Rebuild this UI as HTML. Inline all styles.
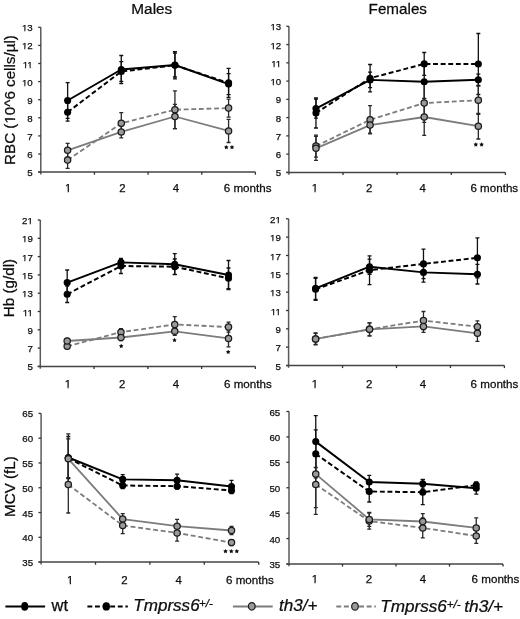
<!DOCTYPE html>
<html><head><meta charset="utf-8"><title>Figure</title>
<style>html,body{margin:0;padding:0;background:#fff;}svg{display:block;filter:grayscale(1);}text{font-family:"Liberation Sans", sans-serif;fill:#0d0d0d;stroke:#0d0d0d;stroke-width:0.25px;}.tk{font-size:9.7px;}.xl{font-size:11.4px;}.ti{font-size:15px;}.yt{font-size:15.2px;}.lg{font-size:16.5px;}.it{font-style:italic;}.sup{font-size:11.5px;font-style:italic;}</style></head><body>
<svg width="520" height="619" viewBox="0 0 520 619">
<rect width="520" height="619" fill="#fff"/>
<text transform="translate(131.32,13.5) scale(1.025,1)" class="ti">Males</text>
<text transform="translate(368.58,13.6) scale(1.016,1)" class="ti">Females</text>
<text transform="translate(15,164.95) rotate(-90)" class="yt">RBC (10^6 cells/µl)</text>
<text transform="translate(14.2,317.15) rotate(-90)" class="yt">Hb (g/dl)</text>
<text transform="translate(14.9,516.95) rotate(-90)" class="yt">MCV (fL)</text>
<line x1="40.8" y1="27.3" x2="40.8" y2="174.4" stroke="#5a5a5a" stroke-width="1.5"/>
<line x1="38.2" y1="172.1" x2="40.8" y2="172.1" stroke="#333" stroke-width="1.3"/>
<text x="32.7" y="176.15" text-anchor="end" class="tk">5</text>
<line x1="38.2" y1="154" x2="40.8" y2="154" stroke="#333" stroke-width="1.3"/>
<text x="32.7" y="158.05" text-anchor="end" class="tk">6</text>
<line x1="38.2" y1="135.9" x2="40.8" y2="135.9" stroke="#333" stroke-width="1.3"/>
<text x="32.7" y="139.95" text-anchor="end" class="tk">7</text>
<line x1="38.2" y1="117.8" x2="40.8" y2="117.8" stroke="#333" stroke-width="1.3"/>
<text x="32.7" y="121.85" text-anchor="end" class="tk">8</text>
<line x1="38.2" y1="99.7" x2="40.8" y2="99.7" stroke="#333" stroke-width="1.3"/>
<text x="32.7" y="103.75" text-anchor="end" class="tk">9</text>
<line x1="38.2" y1="81.6" x2="40.8" y2="81.6" stroke="#333" stroke-width="1.3"/>
<text x="32.7" y="85.65" text-anchor="end" class="tk">10</text>
<line x1="38.2" y1="63.5" x2="40.8" y2="63.5" stroke="#333" stroke-width="1.3"/>
<text x="32.7" y="67.55" text-anchor="end" class="tk">11</text>
<line x1="38.2" y1="45.4" x2="40.8" y2="45.4" stroke="#333" stroke-width="1.3"/>
<text x="32.7" y="49.45" text-anchor="end" class="tk">12</text>
<line x1="38.2" y1="27.3" x2="40.8" y2="27.3" stroke="#333" stroke-width="1.3"/>
<text x="32.7" y="31.35" text-anchor="end" class="tk">13</text>
<line x1="38.2" y1="172.1" x2="255.4" y2="172.1" stroke="#444" stroke-width="1.5"/>
<line x1="94.45" y1="172.1" x2="94.45" y2="174.7" stroke="#333" stroke-width="1.3"/>
<line x1="148.1" y1="172.1" x2="148.1" y2="174.7" stroke="#333" stroke-width="1.3"/>
<line x1="201.75" y1="172.1" x2="201.75" y2="174.7" stroke="#333" stroke-width="1.3"/>
<line x1="255.4" y1="172.1" x2="255.4" y2="174.7" stroke="#333" stroke-width="1.3"/>
<text x="68.1" y="192.1" text-anchor="middle" class="xl">1</text>
<text x="122.3" y="192.1" text-anchor="middle" class="xl">2</text>
<text x="176" y="192.1" text-anchor="middle" class="xl">4</text>
<text transform="translate(223.69,192.1) scale(1.02,1)" class="xl">6 months</text>
<path d="M67.62 103.3V121.1M65.62 103.3H69.62M65.62 121.1H69.62" stroke="#111" stroke-width="1.3" fill="none"/>
<path d="M121.28 61.6V81.4M119.28 61.6H123.28M119.28 81.4H123.28" stroke="#111" stroke-width="1.3" fill="none"/>
<path d="M174.93 51.7V78.9M172.93 51.7H176.93M172.93 78.9H176.93" stroke="#111" stroke-width="1.3" fill="none"/>
<path d="M228.58 68.4V97.4M226.58 68.4H230.58M226.58 97.4H230.58" stroke="#111" stroke-width="1.3" fill="none"/>
<path d="M67.62 82.7V118.3M65.62 82.7H69.62M65.62 118.3H69.62" stroke="#111" stroke-width="1.3" fill="none"/>
<path d="M121.28 55.5V83.5M119.28 55.5H123.28M119.28 83.5H123.28" stroke="#111" stroke-width="1.3" fill="none"/>
<path d="M174.93 53V77M172.93 53H176.93M172.93 77H176.93" stroke="#111" stroke-width="1.3" fill="none"/>
<path d="M228.58 73.6V94.6M226.58 73.6H230.58M226.58 94.6H230.58" stroke="#111" stroke-width="1.3" fill="none"/>
<path d="M67.62 151.9V168.3M65.62 151.9H69.62M65.62 168.3H69.62" stroke="#282828" stroke-width="1.3" fill="none"/>
<path d="M121.28 112.7V133.9M119.28 112.7H123.28M119.28 133.9H123.28" stroke="#282828" stroke-width="1.3" fill="none"/>
<path d="M174.93 90.8V128.6M172.93 90.8H176.93M172.93 128.6H176.93" stroke="#282828" stroke-width="1.3" fill="none"/>
<path d="M228.58 99.1V117.1M226.58 99.1H230.58M226.58 117.1H230.58" stroke="#282828" stroke-width="1.3" fill="none"/>
<path d="M67.62 143.4V157.2M65.62 143.4H69.62M65.62 157.2H69.62" stroke="#282828" stroke-width="1.3" fill="none"/>
<path d="M121.28 126V137.8M119.28 126H123.28M119.28 137.8H123.28" stroke="#282828" stroke-width="1.3" fill="none"/>
<path d="M174.93 104.4V128.6M172.93 104.4H176.93M172.93 128.6H176.93" stroke="#282828" stroke-width="1.3" fill="none"/>
<path d="M228.58 119.3V142.5M226.58 119.3H230.58M226.58 142.5H230.58" stroke="#282828" stroke-width="1.3" fill="none"/>
<polyline points="67.62,112.2 121.28,71.5 174.93,65.3 228.58,82.9" fill="none" stroke="#000" stroke-width="1.95" stroke-dasharray="4.9 2.7" stroke-linejoin="round"/>
<polyline points="67.62,100.5 121.28,69.5 174.93,65 228.58,84.1" fill="none" stroke="#000" stroke-width="1.95" stroke-linejoin="round"/>
<polyline points="67.62,160.1 121.28,123.3 174.93,109.7 228.58,108.1" fill="none" stroke="#7c7c7c" stroke-width="1.8" stroke-dasharray="4.9 2.7" stroke-linejoin="round"/>
<polyline points="67.62,150.3 121.28,131.9 174.93,116.5 228.58,130.9" fill="none" stroke="#7c7c7c" stroke-width="1.8" stroke-linejoin="round"/>
<circle cx="67.62" cy="112.2" r="3.55" fill="#000"/>
<circle cx="121.28" cy="71.5" r="3.55" fill="#000"/>
<circle cx="174.93" cy="65.3" r="3.55" fill="#000"/>
<circle cx="228.58" cy="82.9" r="3.55" fill="#000"/>
<circle cx="67.62" cy="100.5" r="3.55" fill="#000"/>
<circle cx="121.28" cy="69.5" r="3.55" fill="#000"/>
<circle cx="174.93" cy="65" r="3.55" fill="#000"/>
<circle cx="228.58" cy="84.1" r="3.55" fill="#000"/>
<circle cx="67.62" cy="160.1" r="3.15" fill="#9a9a9a" stroke="#1c1c1c" stroke-width="1.25"/>
<circle cx="121.28" cy="123.3" r="3.15" fill="#9a9a9a" stroke="#1c1c1c" stroke-width="1.25"/>
<circle cx="174.93" cy="109.7" r="3.15" fill="#9a9a9a" stroke="#1c1c1c" stroke-width="1.25"/>
<circle cx="228.58" cy="108.1" r="3.15" fill="#9a9a9a" stroke="#1c1c1c" stroke-width="1.25"/>
<circle cx="67.62" cy="150.3" r="3.15" fill="#9a9a9a" stroke="#1c1c1c" stroke-width="1.25"/>
<circle cx="121.28" cy="131.9" r="3.15" fill="#9a9a9a" stroke="#1c1c1c" stroke-width="1.25"/>
<circle cx="174.93" cy="116.5" r="3.15" fill="#9a9a9a" stroke="#1c1c1c" stroke-width="1.25"/>
<circle cx="228.58" cy="130.9" r="3.15" fill="#9a9a9a" stroke="#1c1c1c" stroke-width="1.25"/>
<polygon points="226.3,144.95 227.06,146.25 228.53,146.57 227.54,147.7 227.68,149.2 226.3,148.6 224.92,149.2 225.06,147.7 224.07,146.57 225.54,146.25" fill="#111"/>
<polygon points="232,144.95 232.76,146.25 234.23,146.57 233.24,147.7 233.38,149.2 232,148.6 230.62,149.2 230.76,147.7 229.77,146.57 231.24,146.25" fill="#111"/>
<line x1="288.9" y1="26.3" x2="288.9" y2="174.7" stroke="#5a5a5a" stroke-width="1.5"/>
<line x1="286.3" y1="172.4" x2="288.9" y2="172.4" stroke="#333" stroke-width="1.3"/>
<text x="281.25" y="176.45" text-anchor="end" class="tk">5</text>
<line x1="286.3" y1="154.14" x2="288.9" y2="154.14" stroke="#333" stroke-width="1.3"/>
<text x="281.25" y="158.19" text-anchor="end" class="tk">6</text>
<line x1="286.3" y1="135.88" x2="288.9" y2="135.88" stroke="#333" stroke-width="1.3"/>
<text x="281.25" y="139.93" text-anchor="end" class="tk">7</text>
<line x1="286.3" y1="117.61" x2="288.9" y2="117.61" stroke="#333" stroke-width="1.3"/>
<text x="281.25" y="121.66" text-anchor="end" class="tk">8</text>
<line x1="286.3" y1="99.35" x2="288.9" y2="99.35" stroke="#333" stroke-width="1.3"/>
<text x="281.25" y="103.4" text-anchor="end" class="tk">9</text>
<line x1="286.3" y1="81.09" x2="288.9" y2="81.09" stroke="#333" stroke-width="1.3"/>
<text x="281.25" y="85.14" text-anchor="end" class="tk">10</text>
<line x1="286.3" y1="62.83" x2="288.9" y2="62.83" stroke="#333" stroke-width="1.3"/>
<text x="281.25" y="66.88" text-anchor="end" class="tk">11</text>
<line x1="286.3" y1="44.56" x2="288.9" y2="44.56" stroke="#333" stroke-width="1.3"/>
<text x="281.25" y="48.61" text-anchor="end" class="tk">12</text>
<line x1="286.3" y1="26.3" x2="288.9" y2="26.3" stroke="#333" stroke-width="1.3"/>
<text x="281.25" y="30.35" text-anchor="end" class="tk">13</text>
<line x1="286.3" y1="172.4" x2="505.4" y2="172.4" stroke="#444" stroke-width="1.5"/>
<line x1="343.02" y1="172.4" x2="343.02" y2="175" stroke="#333" stroke-width="1.3"/>
<line x1="397.15" y1="172.4" x2="397.15" y2="175" stroke="#333" stroke-width="1.3"/>
<line x1="451.27" y1="172.4" x2="451.27" y2="175" stroke="#333" stroke-width="1.3"/>
<line x1="505.4" y1="172.4" x2="505.4" y2="175" stroke="#333" stroke-width="1.3"/>
<text x="314.8" y="192.1" text-anchor="middle" class="xl">1</text>
<text x="369.2" y="192.1" text-anchor="middle" class="xl">2</text>
<text x="422.7" y="192.1" text-anchor="middle" class="xl">4</text>
<text transform="translate(470.39,192.1) scale(1.02,1)" class="xl">6 months</text>
<path d="M315.96 98V128M313.96 98H317.96M313.96 128H317.96" stroke="#111" stroke-width="1.3" fill="none"/>
<path d="M370.09 64.5V91.9M368.09 64.5H372.09M368.09 91.9H372.09" stroke="#111" stroke-width="1.3" fill="none"/>
<path d="M424.21 52.5V75.3M422.21 52.5H426.21M422.21 75.3H426.21" stroke="#111" stroke-width="1.3" fill="none"/>
<path d="M478.34 33.5V94.5M476.34 33.5H480.34M476.34 94.5H480.34" stroke="#111" stroke-width="1.3" fill="none"/>
<path d="M315.96 99.1V118.1M313.96 99.1H317.96M313.96 118.1H317.96" stroke="#111" stroke-width="1.3" fill="none"/>
<path d="M370.09 72.2V87.6M368.09 72.2H372.09M368.09 87.6H372.09" stroke="#111" stroke-width="1.3" fill="none"/>
<path d="M424.21 65.3V98.3M422.21 65.3H426.21M422.21 98.3H426.21" stroke="#111" stroke-width="1.3" fill="none"/>
<path d="M478.34 74.1V85.5M476.34 74.1H480.34M476.34 85.5H480.34" stroke="#111" stroke-width="1.3" fill="none"/>
<path d="M315.96 135.1V157.1M313.96 135.1H317.96M313.96 157.1H317.96" stroke="#282828" stroke-width="1.3" fill="none"/>
<path d="M370.09 105.7V133.9M368.09 105.7H372.09M368.09 133.9H372.09" stroke="#282828" stroke-width="1.3" fill="none"/>
<path d="M424.21 83.8V122.4M422.21 83.8H426.21M422.21 122.4H426.21" stroke="#282828" stroke-width="1.3" fill="none"/>
<path d="M478.34 86V114.4M476.34 86H480.34M476.34 114.4H480.34" stroke="#282828" stroke-width="1.3" fill="none"/>
<path d="M315.96 136.3V160.3M313.96 136.3H317.96M313.96 160.3H317.96" stroke="#282828" stroke-width="1.3" fill="none"/>
<path d="M370.09 117.1V133.1M368.09 117.1H372.09M368.09 133.1H372.09" stroke="#282828" stroke-width="1.3" fill="none"/>
<path d="M424.21 98.6V135.4M422.21 98.6H426.21M422.21 135.4H426.21" stroke="#282828" stroke-width="1.3" fill="none"/>
<path d="M478.34 113.4V139M476.34 113.4H480.34M476.34 139H480.34" stroke="#282828" stroke-width="1.3" fill="none"/>
<polyline points="315.96,113 370.09,78.2 424.21,63.9 478.34,64" fill="none" stroke="#000" stroke-width="1.95" stroke-dasharray="4.9 2.7" stroke-linejoin="round"/>
<polyline points="315.96,108.6 370.09,79.9 424.21,81.8 478.34,79.8" fill="none" stroke="#000" stroke-width="1.95" stroke-linejoin="round"/>
<polyline points="315.96,146.1 370.09,119.8 424.21,103.1 478.34,100.2" fill="none" stroke="#7c7c7c" stroke-width="1.8" stroke-dasharray="4.9 2.7" stroke-linejoin="round"/>
<polyline points="315.96,148.3 370.09,125.1 424.21,117 478.34,126.2" fill="none" stroke="#7c7c7c" stroke-width="1.8" stroke-linejoin="round"/>
<circle cx="315.96" cy="113" r="3.55" fill="#000"/>
<circle cx="370.09" cy="78.2" r="3.55" fill="#000"/>
<circle cx="424.21" cy="63.9" r="3.55" fill="#000"/>
<circle cx="478.34" cy="64" r="3.55" fill="#000"/>
<circle cx="315.96" cy="108.6" r="3.55" fill="#000"/>
<circle cx="370.09" cy="79.9" r="3.55" fill="#000"/>
<circle cx="424.21" cy="81.8" r="3.55" fill="#000"/>
<circle cx="478.34" cy="79.8" r="3.55" fill="#000"/>
<circle cx="315.96" cy="146.1" r="3.15" fill="#9a9a9a" stroke="#1c1c1c" stroke-width="1.25"/>
<circle cx="370.09" cy="119.8" r="3.15" fill="#9a9a9a" stroke="#1c1c1c" stroke-width="1.25"/>
<circle cx="424.21" cy="103.1" r="3.15" fill="#9a9a9a" stroke="#1c1c1c" stroke-width="1.25"/>
<circle cx="478.34" cy="100.2" r="3.15" fill="#9a9a9a" stroke="#1c1c1c" stroke-width="1.25"/>
<circle cx="315.96" cy="148.3" r="3.15" fill="#9a9a9a" stroke="#1c1c1c" stroke-width="1.25"/>
<circle cx="370.09" cy="125.1" r="3.15" fill="#9a9a9a" stroke="#1c1c1c" stroke-width="1.25"/>
<circle cx="424.21" cy="117" r="3.15" fill="#9a9a9a" stroke="#1c1c1c" stroke-width="1.25"/>
<circle cx="478.34" cy="126.2" r="3.15" fill="#9a9a9a" stroke="#1c1c1c" stroke-width="1.25"/>
<polygon points="475.8,142.25 476.56,143.55 478.03,143.87 477.04,145 477.18,146.5 475.8,145.9 474.42,146.5 474.56,145 473.57,143.87 475.04,143.55" fill="#111"/>
<polygon points="481.6,142.25 482.36,143.55 483.83,143.87 482.84,145 482.98,146.5 481.6,145.9 480.22,146.5 480.36,145 479.37,143.87 480.84,143.55" fill="#111"/>
<line x1="40.3" y1="220" x2="40.3" y2="368.7" stroke="#5a5a5a" stroke-width="1.5"/>
<line x1="37.7" y1="366.4" x2="40.3" y2="366.4" stroke="#333" stroke-width="1.3"/>
<text x="32.8" y="370.45" text-anchor="end" class="tk">5</text>
<line x1="37.7" y1="348.1" x2="40.3" y2="348.1" stroke="#333" stroke-width="1.3"/>
<text x="32.8" y="352.15" text-anchor="end" class="tk">7</text>
<line x1="37.7" y1="329.8" x2="40.3" y2="329.8" stroke="#333" stroke-width="1.3"/>
<text x="32.8" y="333.85" text-anchor="end" class="tk">9</text>
<line x1="37.7" y1="311.5" x2="40.3" y2="311.5" stroke="#333" stroke-width="1.3"/>
<text x="32.8" y="315.55" text-anchor="end" class="tk">11</text>
<line x1="37.7" y1="293.2" x2="40.3" y2="293.2" stroke="#333" stroke-width="1.3"/>
<text x="32.8" y="297.25" text-anchor="end" class="tk">13</text>
<line x1="37.7" y1="274.9" x2="40.3" y2="274.9" stroke="#333" stroke-width="1.3"/>
<text x="32.8" y="278.95" text-anchor="end" class="tk">15</text>
<line x1="37.7" y1="256.6" x2="40.3" y2="256.6" stroke="#333" stroke-width="1.3"/>
<text x="32.8" y="260.65" text-anchor="end" class="tk">17</text>
<line x1="37.7" y1="238.3" x2="40.3" y2="238.3" stroke="#333" stroke-width="1.3"/>
<text x="32.8" y="242.35" text-anchor="end" class="tk">19</text>
<line x1="37.7" y1="220" x2="40.3" y2="220" stroke="#333" stroke-width="1.3"/>
<text x="32.8" y="224.05" text-anchor="end" class="tk">21</text>
<line x1="37.7" y1="366.4" x2="255.4" y2="366.4" stroke="#444" stroke-width="1.5"/>
<line x1="94.08" y1="366.4" x2="94.08" y2="369" stroke="#333" stroke-width="1.3"/>
<line x1="147.85" y1="366.4" x2="147.85" y2="369" stroke="#333" stroke-width="1.3"/>
<line x1="201.62" y1="366.4" x2="201.62" y2="369" stroke="#333" stroke-width="1.3"/>
<line x1="255.4" y1="366.4" x2="255.4" y2="369" stroke="#333" stroke-width="1.3"/>
<text x="67.8" y="387.9" text-anchor="middle" class="xl">1</text>
<text x="122.1" y="387.9" text-anchor="middle" class="xl">2</text>
<text x="176" y="387.9" text-anchor="middle" class="xl">4</text>
<text transform="translate(223.99,387.9) scale(1.02,1)" class="xl">6 months</text>
<path d="M67.19 286.1V302.5M65.19 286.1H69.19M65.19 302.5H69.19" stroke="#111" stroke-width="1.3" fill="none"/>
<path d="M120.96 258.5V273.5M118.96 258.5H122.96M118.96 273.5H122.96" stroke="#111" stroke-width="1.3" fill="none"/>
<path d="M174.74 259V274.4M172.74 259H176.74M172.74 274.4H176.74" stroke="#111" stroke-width="1.3" fill="none"/>
<path d="M228.51 268V288.6M226.51 268H230.51M226.51 288.6H230.51" stroke="#111" stroke-width="1.3" fill="none"/>
<path d="M67.19 270V295.2M65.19 270H69.19M65.19 295.2H69.19" stroke="#111" stroke-width="1.3" fill="none"/>
<path d="M120.96 258.9V265.9M118.96 258.9H122.96M118.96 265.9H122.96" stroke="#111" stroke-width="1.3" fill="none"/>
<path d="M174.74 253.7V274.7M172.74 253.7H176.74M172.74 274.7H176.74" stroke="#111" stroke-width="1.3" fill="none"/>
<path d="M228.51 260.5V289.5M226.51 260.5H230.51M226.51 289.5H230.51" stroke="#111" stroke-width="1.3" fill="none"/>
<path d="M67.19 343.8V348.8M65.19 343.8H69.19M65.19 348.8H69.19" stroke="#282828" stroke-width="1.3" fill="none"/>
<path d="M120.96 328.6V335.8M118.96 328.6H122.96M118.96 335.8H122.96" stroke="#282828" stroke-width="1.3" fill="none"/>
<path d="M174.74 316.7V332.1M172.74 316.7H176.74M172.74 332.1H176.74" stroke="#282828" stroke-width="1.3" fill="none"/>
<path d="M228.51 322.1V332.1M226.51 322.1H230.51M226.51 332.1H230.51" stroke="#282828" stroke-width="1.3" fill="none"/>
<path d="M67.19 338.5V343.5M65.19 338.5H69.19M65.19 343.5H69.19" stroke="#282828" stroke-width="1.3" fill="none"/>
<path d="M120.96 334.5V340.5M118.96 334.5H122.96M118.96 340.5H122.96" stroke="#282828" stroke-width="1.3" fill="none"/>
<path d="M174.74 327.3V335.3M172.74 327.3H176.74M172.74 335.3H176.74" stroke="#282828" stroke-width="1.3" fill="none"/>
<path d="M228.51 329.9V346.9M226.51 329.9H230.51M226.51 346.9H230.51" stroke="#282828" stroke-width="1.3" fill="none"/>
<polyline points="67.19,294.3 120.96,266 174.74,266.7 228.51,278.3" fill="none" stroke="#000" stroke-width="1.95" stroke-dasharray="4.9 2.7" stroke-linejoin="round"/>
<polyline points="67.19,282.6 120.96,262.4 174.74,264.2 228.51,275" fill="none" stroke="#000" stroke-width="1.95" stroke-linejoin="round"/>
<polyline points="67.19,346.3 120.96,332.2 174.74,324.4 228.51,327.1" fill="none" stroke="#7c7c7c" stroke-width="1.8" stroke-dasharray="4.9 2.7" stroke-linejoin="round"/>
<polyline points="67.19,341 120.96,337.5 174.74,331.3 228.51,338.4" fill="none" stroke="#7c7c7c" stroke-width="1.8" stroke-linejoin="round"/>
<circle cx="67.19" cy="294.3" r="3.55" fill="#000"/>
<circle cx="120.96" cy="266" r="3.55" fill="#000"/>
<circle cx="174.74" cy="266.7" r="3.55" fill="#000"/>
<circle cx="228.51" cy="278.3" r="3.55" fill="#000"/>
<circle cx="67.19" cy="282.6" r="3.55" fill="#000"/>
<circle cx="120.96" cy="262.4" r="3.55" fill="#000"/>
<circle cx="174.74" cy="264.2" r="3.55" fill="#000"/>
<circle cx="228.51" cy="275" r="3.55" fill="#000"/>
<circle cx="67.19" cy="346.3" r="3.15" fill="#9a9a9a" stroke="#1c1c1c" stroke-width="1.25"/>
<circle cx="120.96" cy="332.2" r="3.15" fill="#9a9a9a" stroke="#1c1c1c" stroke-width="1.25"/>
<circle cx="174.74" cy="324.4" r="3.15" fill="#9a9a9a" stroke="#1c1c1c" stroke-width="1.25"/>
<circle cx="228.51" cy="327.1" r="3.15" fill="#9a9a9a" stroke="#1c1c1c" stroke-width="1.25"/>
<circle cx="67.19" cy="341" r="3.15" fill="#9a9a9a" stroke="#1c1c1c" stroke-width="1.25"/>
<circle cx="120.96" cy="337.5" r="3.15" fill="#9a9a9a" stroke="#1c1c1c" stroke-width="1.25"/>
<circle cx="174.74" cy="331.3" r="3.15" fill="#9a9a9a" stroke="#1c1c1c" stroke-width="1.25"/>
<circle cx="228.51" cy="338.4" r="3.15" fill="#9a9a9a" stroke="#1c1c1c" stroke-width="1.25"/>
<polygon points="121.2,343.75 121.96,345.05 123.43,345.37 122.44,346.5 122.58,348 121.2,347.4 119.82,348 119.96,346.5 118.97,345.37 120.44,345.05" fill="#111"/>
<polygon points="174.5,337.85 175.26,339.15 176.73,339.47 175.74,340.6 175.88,342.1 174.5,341.5 173.12,342.1 173.26,340.6 172.27,339.47 173.74,339.15" fill="#111"/>
<polygon points="228.2,349.65 228.96,350.95 230.43,351.27 229.44,352.4 229.58,353.9 228.2,353.3 226.82,353.9 226.96,352.4 225.97,351.27 227.44,350.95" fill="#111"/>
<line x1="288.6" y1="218.8" x2="288.6" y2="367.8" stroke="#5a5a5a" stroke-width="1.5"/>
<line x1="286" y1="365.5" x2="288.6" y2="365.5" stroke="#333" stroke-width="1.3"/>
<text x="280.8" y="369.55" text-anchor="end" class="tk">5</text>
<line x1="286" y1="347.16" x2="288.6" y2="347.16" stroke="#333" stroke-width="1.3"/>
<text x="280.8" y="351.21" text-anchor="end" class="tk">7</text>
<line x1="286" y1="328.82" x2="288.6" y2="328.82" stroke="#333" stroke-width="1.3"/>
<text x="280.8" y="332.88" text-anchor="end" class="tk">9</text>
<line x1="286" y1="310.49" x2="288.6" y2="310.49" stroke="#333" stroke-width="1.3"/>
<text x="280.8" y="314.54" text-anchor="end" class="tk">11</text>
<line x1="286" y1="292.15" x2="288.6" y2="292.15" stroke="#333" stroke-width="1.3"/>
<text x="280.8" y="296.2" text-anchor="end" class="tk">13</text>
<line x1="286" y1="273.81" x2="288.6" y2="273.81" stroke="#333" stroke-width="1.3"/>
<text x="280.8" y="277.86" text-anchor="end" class="tk">15</text>
<line x1="286" y1="255.48" x2="288.6" y2="255.48" stroke="#333" stroke-width="1.3"/>
<text x="280.8" y="259.53" text-anchor="end" class="tk">17</text>
<line x1="286" y1="237.14" x2="288.6" y2="237.14" stroke="#333" stroke-width="1.3"/>
<text x="280.8" y="241.19" text-anchor="end" class="tk">19</text>
<line x1="286" y1="218.8" x2="288.6" y2="218.8" stroke="#333" stroke-width="1.3"/>
<text x="280.8" y="222.85" text-anchor="end" class="tk">21</text>
<line x1="286" y1="365.5" x2="504.4" y2="365.5" stroke="#444" stroke-width="1.5"/>
<line x1="342.55" y1="365.5" x2="342.55" y2="368.1" stroke="#333" stroke-width="1.3"/>
<line x1="396.5" y1="365.5" x2="396.5" y2="368.1" stroke="#333" stroke-width="1.3"/>
<line x1="450.45" y1="365.5" x2="450.45" y2="368.1" stroke="#333" stroke-width="1.3"/>
<line x1="504.4" y1="365.5" x2="504.4" y2="368.1" stroke="#333" stroke-width="1.3"/>
<text x="314.8" y="387.9" text-anchor="middle" class="xl">1</text>
<text x="369.1" y="387.9" text-anchor="middle" class="xl">2</text>
<text x="423" y="387.9" text-anchor="middle" class="xl">4</text>
<text transform="translate(470.59,387.9) scale(1.02,1)" class="xl">6 months</text>
<path d="M315.58 278.3V300.3M313.58 278.3H317.58M313.58 300.3H317.58" stroke="#111" stroke-width="1.3" fill="none"/>
<path d="M369.52 255.8V284.6M367.52 255.8H371.52M367.52 284.6H371.52" stroke="#111" stroke-width="1.3" fill="none"/>
<path d="M423.48 249.2V278.6M421.48 249.2H425.48M421.48 278.6H425.48" stroke="#111" stroke-width="1.3" fill="none"/>
<path d="M477.42 237.8V277.8M475.42 237.8H479.42M475.42 277.8H479.42" stroke="#111" stroke-width="1.3" fill="none"/>
<path d="M315.58 277.3V299.3M313.58 277.3H317.58M313.58 299.3H317.58" stroke="#111" stroke-width="1.3" fill="none"/>
<path d="M369.52 259.1V274.3M367.52 259.1H371.52M367.52 274.3H371.52" stroke="#111" stroke-width="1.3" fill="none"/>
<path d="M423.48 262.6V282.2M421.48 262.6H425.48M421.48 282.2H425.48" stroke="#111" stroke-width="1.3" fill="none"/>
<path d="M477.42 264.4V284M475.42 264.4H479.42M475.42 284H479.42" stroke="#111" stroke-width="1.3" fill="none"/>
<path d="M315.58 333.4V344.4M313.58 333.4H317.58M313.58 344.4H317.58" stroke="#282828" stroke-width="1.3" fill="none"/>
<path d="M369.52 322.8V335.8M367.52 322.8H371.52M367.52 335.8H371.52" stroke="#282828" stroke-width="1.3" fill="none"/>
<path d="M423.48 311.5V329.7M421.48 311.5H425.48M421.48 329.7H425.48" stroke="#282828" stroke-width="1.3" fill="none"/>
<path d="M477.42 320.8V332.6M475.42 320.8H479.42M475.42 332.6H479.42" stroke="#282828" stroke-width="1.3" fill="none"/>
<path d="M315.58 332.9V344.9M313.58 332.9H317.58M313.58 344.9H317.58" stroke="#282828" stroke-width="1.3" fill="none"/>
<path d="M369.52 322.8V335.8M367.52 322.8H371.52M367.52 335.8H371.52" stroke="#282828" stroke-width="1.3" fill="none"/>
<path d="M423.48 320.4V332.4M421.48 320.4H425.48M421.48 332.4H425.48" stroke="#282828" stroke-width="1.3" fill="none"/>
<path d="M477.42 325.2V341.4M475.42 325.2H479.42M475.42 341.4H479.42" stroke="#282828" stroke-width="1.3" fill="none"/>
<polyline points="315.58,289.3 369.52,270.2 423.48,263.9 477.42,257.8" fill="none" stroke="#000" stroke-width="1.95" stroke-dasharray="4.9 2.7" stroke-linejoin="round"/>
<polyline points="315.58,288.3 369.52,266.7 423.48,272.4 477.42,274.2" fill="none" stroke="#000" stroke-width="1.95" stroke-linejoin="round"/>
<polyline points="315.58,338.9 369.52,329.3 423.48,320.6 477.42,326.7" fill="none" stroke="#7c7c7c" stroke-width="1.8" stroke-dasharray="4.9 2.7" stroke-linejoin="round"/>
<polyline points="315.58,338.9 369.52,329.3 423.48,326.4 477.42,333.3" fill="none" stroke="#7c7c7c" stroke-width="1.8" stroke-linejoin="round"/>
<circle cx="315.58" cy="289.3" r="3.55" fill="#000"/>
<circle cx="369.52" cy="270.2" r="3.55" fill="#000"/>
<circle cx="423.48" cy="263.9" r="3.55" fill="#000"/>
<circle cx="477.42" cy="257.8" r="3.55" fill="#000"/>
<circle cx="315.58" cy="288.3" r="3.55" fill="#000"/>
<circle cx="369.52" cy="266.7" r="3.55" fill="#000"/>
<circle cx="423.48" cy="272.4" r="3.55" fill="#000"/>
<circle cx="477.42" cy="274.2" r="3.55" fill="#000"/>
<circle cx="315.58" cy="338.9" r="3.15" fill="#9a9a9a" stroke="#1c1c1c" stroke-width="1.25"/>
<circle cx="369.52" cy="329.3" r="3.15" fill="#9a9a9a" stroke="#1c1c1c" stroke-width="1.25"/>
<circle cx="423.48" cy="320.6" r="3.15" fill="#9a9a9a" stroke="#1c1c1c" stroke-width="1.25"/>
<circle cx="477.42" cy="326.7" r="3.15" fill="#9a9a9a" stroke="#1c1c1c" stroke-width="1.25"/>
<circle cx="315.58" cy="338.9" r="3.15" fill="#9a9a9a" stroke="#1c1c1c" stroke-width="1.25"/>
<circle cx="369.52" cy="329.3" r="3.15" fill="#9a9a9a" stroke="#1c1c1c" stroke-width="1.25"/>
<circle cx="423.48" cy="326.4" r="3.15" fill="#9a9a9a" stroke="#1c1c1c" stroke-width="1.25"/>
<circle cx="477.42" cy="333.3" r="3.15" fill="#9a9a9a" stroke="#1c1c1c" stroke-width="1.25"/>
<line x1="41.1" y1="413.4" x2="41.1" y2="564.4" stroke="#5a5a5a" stroke-width="1.5"/>
<line x1="38.5" y1="562.1" x2="41.1" y2="562.1" stroke="#333" stroke-width="1.3"/>
<text x="33.1" y="566.15" text-anchor="end" class="tk">35</text>
<line x1="38.5" y1="537.32" x2="41.1" y2="537.32" stroke="#333" stroke-width="1.3"/>
<text x="33.1" y="541.37" text-anchor="end" class="tk">40</text>
<line x1="38.5" y1="512.53" x2="41.1" y2="512.53" stroke="#333" stroke-width="1.3"/>
<text x="33.1" y="516.58" text-anchor="end" class="tk">45</text>
<line x1="38.5" y1="487.75" x2="41.1" y2="487.75" stroke="#333" stroke-width="1.3"/>
<text x="33.1" y="491.8" text-anchor="end" class="tk">50</text>
<line x1="38.5" y1="462.97" x2="41.1" y2="462.97" stroke="#333" stroke-width="1.3"/>
<text x="33.1" y="467.02" text-anchor="end" class="tk">55</text>
<line x1="38.5" y1="438.18" x2="41.1" y2="438.18" stroke="#333" stroke-width="1.3"/>
<text x="33.1" y="442.23" text-anchor="end" class="tk">60</text>
<line x1="38.5" y1="413.4" x2="41.1" y2="413.4" stroke="#333" stroke-width="1.3"/>
<text x="33.1" y="417.45" text-anchor="end" class="tk">65</text>
<line x1="38.5" y1="562.1" x2="258.7" y2="562.1" stroke="#444" stroke-width="1.5"/>
<line x1="95.5" y1="562.1" x2="95.5" y2="564.7" stroke="#333" stroke-width="1.3"/>
<line x1="149.9" y1="562.1" x2="149.9" y2="564.7" stroke="#333" stroke-width="1.3"/>
<line x1="204.3" y1="562.1" x2="204.3" y2="564.7" stroke="#333" stroke-width="1.3"/>
<line x1="258.7" y1="562.1" x2="258.7" y2="564.7" stroke="#333" stroke-width="1.3"/>
<text x="70.2" y="584.2" text-anchor="middle" class="xl">1</text>
<text x="124.5" y="584.2" text-anchor="middle" class="xl">2</text>
<text x="178.7" y="584.2" text-anchor="middle" class="xl">4</text>
<text transform="translate(225.99,584.2) scale(1.02,1)" class="xl">6 months</text>
<path d="M68.3 438.9V477.7M66.3 438.9H70.3M66.3 477.7H70.3" stroke="#111" stroke-width="1.3" fill="none"/>
<path d="M122.7 482.5V488.5M120.7 482.5H124.7M120.7 488.5H124.7" stroke="#111" stroke-width="1.3" fill="none"/>
<path d="M177.1 483.2V489.2M175.1 483.2H179.1M175.1 489.2H179.1" stroke="#111" stroke-width="1.3" fill="none"/>
<path d="M231.5 487.5V493.5M229.5 487.5H233.5M229.5 493.5H233.5" stroke="#111" stroke-width="1.3" fill="none"/>
<path d="M68.3 436.5V478.5M66.3 436.5H70.3M66.3 478.5H70.3" stroke="#111" stroke-width="1.3" fill="none"/>
<path d="M122.7 474.6V484.2M120.7 474.6H124.7M120.7 484.2H124.7" stroke="#111" stroke-width="1.3" fill="none"/>
<path d="M177.1 474.1V486.5M175.1 474.1H179.1M175.1 486.5H179.1" stroke="#111" stroke-width="1.3" fill="none"/>
<path d="M231.5 480.4V492.6M229.5 480.4H233.5M229.5 492.6H233.5" stroke="#111" stroke-width="1.3" fill="none"/>
<path d="M68.3 456.2V513M66.3 456.2H70.3M66.3 513H70.3" stroke="#282828" stroke-width="1.3" fill="none"/>
<path d="M122.7 517.4V533.6M120.7 517.4H124.7M120.7 533.6H124.7" stroke="#282828" stroke-width="1.3" fill="none"/>
<path d="M177.1 524.7V541.1M175.1 524.7H179.1M175.1 541.1H179.1" stroke="#282828" stroke-width="1.3" fill="none"/>
<path d="M231.5 539.6V545.6M229.5 539.6H233.5M229.5 545.6H233.5" stroke="#282828" stroke-width="1.3" fill="none"/>
<path d="M68.3 433.8V483.8M66.3 433.8H70.3M66.3 483.8H70.3" stroke="#282828" stroke-width="1.3" fill="none"/>
<path d="M122.7 513.6V524.6M120.7 513.6H124.7M120.7 524.6H124.7" stroke="#282828" stroke-width="1.3" fill="none"/>
<path d="M177.1 519.4V533M175.1 519.4H179.1M175.1 533H179.1" stroke="#282828" stroke-width="1.3" fill="none"/>
<path d="M231.5 526.3V534.7M229.5 526.3H233.5M229.5 534.7H233.5" stroke="#282828" stroke-width="1.3" fill="none"/>
<polyline points="68.3,458.3 122.7,485.5 177.1,486.2 231.5,490.5" fill="none" stroke="#000" stroke-width="1.95" stroke-dasharray="4.9 2.7" stroke-linejoin="round"/>
<polyline points="68.3,457.5 122.7,479.4 177.1,480.3 231.5,486.5" fill="none" stroke="#000" stroke-width="1.95" stroke-linejoin="round"/>
<polyline points="68.3,484.6 122.7,525.5 177.1,532.9 231.5,542.6" fill="none" stroke="#7c7c7c" stroke-width="1.8" stroke-dasharray="4.9 2.7" stroke-linejoin="round"/>
<polyline points="68.3,458.8 122.7,519.1 177.1,526.2 231.5,530.5" fill="none" stroke="#7c7c7c" stroke-width="1.8" stroke-linejoin="round"/>
<circle cx="68.3" cy="458.3" r="3.55" fill="#000"/>
<circle cx="122.7" cy="485.5" r="3.55" fill="#000"/>
<circle cx="177.1" cy="486.2" r="3.55" fill="#000"/>
<circle cx="231.5" cy="490.5" r="3.55" fill="#000"/>
<circle cx="68.3" cy="457.5" r="3.55" fill="#000"/>
<circle cx="122.7" cy="479.4" r="3.55" fill="#000"/>
<circle cx="177.1" cy="480.3" r="3.55" fill="#000"/>
<circle cx="231.5" cy="486.5" r="3.55" fill="#000"/>
<circle cx="68.3" cy="484.6" r="3.15" fill="#9a9a9a" stroke="#1c1c1c" stroke-width="1.25"/>
<circle cx="122.7" cy="525.5" r="3.15" fill="#9a9a9a" stroke="#1c1c1c" stroke-width="1.25"/>
<circle cx="177.1" cy="532.9" r="3.15" fill="#9a9a9a" stroke="#1c1c1c" stroke-width="1.25"/>
<circle cx="231.5" cy="542.6" r="3.15" fill="#9a9a9a" stroke="#1c1c1c" stroke-width="1.25"/>
<circle cx="68.3" cy="458.8" r="3.15" fill="#9a9a9a" stroke="#1c1c1c" stroke-width="1.25"/>
<circle cx="122.7" cy="519.1" r="3.15" fill="#9a9a9a" stroke="#1c1c1c" stroke-width="1.25"/>
<circle cx="177.1" cy="526.2" r="3.15" fill="#9a9a9a" stroke="#1c1c1c" stroke-width="1.25"/>
<circle cx="231.5" cy="530.5" r="3.15" fill="#9a9a9a" stroke="#1c1c1c" stroke-width="1.25"/>
<polygon points="225.5,548.95 226.26,550.25 227.73,550.57 226.74,551.7 226.88,553.2 225.5,552.6 224.12,553.2 224.26,551.7 223.27,550.57 224.74,550.25" fill="#111"/>
<polygon points="231.3,548.95 232.06,550.25 233.53,550.57 232.54,551.7 232.68,553.2 231.3,552.6 229.92,553.2 230.06,551.7 229.07,550.57 230.54,550.25" fill="#111"/>
<polygon points="236.8,548.95 237.56,550.25 239.03,550.57 238.04,551.7 238.18,553.2 236.8,552.6 235.42,553.2 235.56,551.7 234.57,550.57 236.04,550.25" fill="#111"/>
<line x1="289" y1="411.5" x2="289" y2="566.3" stroke="#5a5a5a" stroke-width="1.5"/>
<line x1="286.4" y1="564" x2="289" y2="564" stroke="#333" stroke-width="1.3"/>
<text x="280.2" y="568.05" text-anchor="end" class="tk">35</text>
<line x1="286.4" y1="538.58" x2="289" y2="538.58" stroke="#333" stroke-width="1.3"/>
<text x="280.2" y="542.63" text-anchor="end" class="tk">40</text>
<line x1="286.4" y1="513.17" x2="289" y2="513.17" stroke="#333" stroke-width="1.3"/>
<text x="280.2" y="517.22" text-anchor="end" class="tk">45</text>
<line x1="286.4" y1="487.75" x2="289" y2="487.75" stroke="#333" stroke-width="1.3"/>
<text x="280.2" y="491.8" text-anchor="end" class="tk">50</text>
<line x1="286.4" y1="462.33" x2="289" y2="462.33" stroke="#333" stroke-width="1.3"/>
<text x="280.2" y="466.38" text-anchor="end" class="tk">55</text>
<line x1="286.4" y1="436.92" x2="289" y2="436.92" stroke="#333" stroke-width="1.3"/>
<text x="280.2" y="440.97" text-anchor="end" class="tk">60</text>
<line x1="286.4" y1="411.5" x2="289" y2="411.5" stroke="#333" stroke-width="1.3"/>
<text x="280.2" y="415.55" text-anchor="end" class="tk">65</text>
<line x1="286.4" y1="564" x2="503" y2="564" stroke="#444" stroke-width="1.5"/>
<line x1="342.5" y1="564" x2="342.5" y2="566.6" stroke="#333" stroke-width="1.3"/>
<line x1="396" y1="564" x2="396" y2="566.6" stroke="#333" stroke-width="1.3"/>
<line x1="449.5" y1="564" x2="449.5" y2="566.6" stroke="#333" stroke-width="1.3"/>
<line x1="503" y1="564" x2="503" y2="566.6" stroke="#333" stroke-width="1.3"/>
<text x="314.8" y="583.1" text-anchor="middle" class="xl">1</text>
<text x="368.8" y="583.1" text-anchor="middle" class="xl">2</text>
<text x="423" y="583.1" text-anchor="middle" class="xl">4</text>
<text transform="translate(471.59,583.1) scale(1.02,1)" class="xl">6 months</text>
<path d="M315.75 429.9V477.9M313.75 429.9H317.75M313.75 477.9H317.75" stroke="#111" stroke-width="1.3" fill="none"/>
<path d="M369.25 481V502M367.25 481H371.25M367.25 502H371.25" stroke="#111" stroke-width="1.3" fill="none"/>
<path d="M422.75 479.7V504.7M420.75 479.7H424.75M420.75 504.7H424.75" stroke="#111" stroke-width="1.3" fill="none"/>
<path d="M476.25 482.1V488.1M474.25 482.1H478.25M474.25 488.1H478.25" stroke="#111" stroke-width="1.3" fill="none"/>
<path d="M315.75 415.7V467.5M313.75 415.7H317.75M313.75 467.5H317.75" stroke="#111" stroke-width="1.3" fill="none"/>
<path d="M369.25 475.4V488.6M367.25 475.4H371.25M367.25 488.6H371.25" stroke="#111" stroke-width="1.3" fill="none"/>
<path d="M422.75 479.4V488.2M420.75 479.4H424.75M420.75 488.2H424.75" stroke="#111" stroke-width="1.3" fill="none"/>
<path d="M476.25 482.2V494.2M474.25 482.2H478.25M474.25 494.2H478.25" stroke="#111" stroke-width="1.3" fill="none"/>
<path d="M315.75 454.5V514.3M313.75 454.5H317.75M313.75 514.3H317.75" stroke="#282828" stroke-width="1.3" fill="none"/>
<path d="M369.25 513V529.2M367.25 513H371.25M367.25 529.2H371.25" stroke="#282828" stroke-width="1.3" fill="none"/>
<path d="M422.75 518V537.8M420.75 518H424.75M420.75 537.8H424.75" stroke="#282828" stroke-width="1.3" fill="none"/>
<path d="M476.25 528.6V543.4M474.25 528.6H478.25M474.25 543.4H478.25" stroke="#282828" stroke-width="1.3" fill="none"/>
<path d="M315.75 440.5V507.7M313.75 440.5H317.75M313.75 507.7H317.75" stroke="#282828" stroke-width="1.3" fill="none"/>
<path d="M369.25 512.4V526.4M367.25 512.4H371.25M367.25 526.4H371.25" stroke="#282828" stroke-width="1.3" fill="none"/>
<path d="M422.75 513.7V529.3M420.75 513.7H424.75M420.75 529.3H424.75" stroke="#282828" stroke-width="1.3" fill="none"/>
<path d="M476.25 517.8V538M474.25 517.8H478.25M474.25 538H478.25" stroke="#282828" stroke-width="1.3" fill="none"/>
<polyline points="315.75,453.9 369.25,491.5 422.75,492.2 476.25,485.1" fill="none" stroke="#000" stroke-width="1.95" stroke-dasharray="4.9 2.7" stroke-linejoin="round"/>
<polyline points="315.75,441.6 369.25,482 422.75,483.8 476.25,488.2" fill="none" stroke="#000" stroke-width="1.95" stroke-linejoin="round"/>
<polyline points="315.75,484.4 369.25,521.1 422.75,527.9 476.25,536" fill="none" stroke="#7c7c7c" stroke-width="1.8" stroke-dasharray="4.9 2.7" stroke-linejoin="round"/>
<polyline points="315.75,474.1 369.25,519.4 422.75,521.5 476.25,527.9" fill="none" stroke="#7c7c7c" stroke-width="1.8" stroke-linejoin="round"/>
<circle cx="315.75" cy="453.9" r="3.55" fill="#000"/>
<circle cx="369.25" cy="491.5" r="3.55" fill="#000"/>
<circle cx="422.75" cy="492.2" r="3.55" fill="#000"/>
<circle cx="476.25" cy="485.1" r="3.55" fill="#000"/>
<circle cx="315.75" cy="441.6" r="3.55" fill="#000"/>
<circle cx="369.25" cy="482" r="3.55" fill="#000"/>
<circle cx="422.75" cy="483.8" r="3.55" fill="#000"/>
<circle cx="476.25" cy="488.2" r="3.55" fill="#000"/>
<circle cx="315.75" cy="484.4" r="3.15" fill="#9a9a9a" stroke="#1c1c1c" stroke-width="1.25"/>
<circle cx="369.25" cy="521.1" r="3.15" fill="#9a9a9a" stroke="#1c1c1c" stroke-width="1.25"/>
<circle cx="422.75" cy="527.9" r="3.15" fill="#9a9a9a" stroke="#1c1c1c" stroke-width="1.25"/>
<circle cx="476.25" cy="536" r="3.15" fill="#9a9a9a" stroke="#1c1c1c" stroke-width="1.25"/>
<circle cx="315.75" cy="474.1" r="3.15" fill="#9a9a9a" stroke="#1c1c1c" stroke-width="1.25"/>
<circle cx="369.25" cy="519.4" r="3.15" fill="#9a9a9a" stroke="#1c1c1c" stroke-width="1.25"/>
<circle cx="422.75" cy="521.5" r="3.15" fill="#9a9a9a" stroke="#1c1c1c" stroke-width="1.25"/>
<circle cx="476.25" cy="527.9" r="3.15" fill="#9a9a9a" stroke="#1c1c1c" stroke-width="1.25"/>
<line x1="5.4" y1="606.5" x2="45.1" y2="606.5" stroke="#000" stroke-width="1.95"/>
<ellipse cx="24.7" cy="606.4" rx="3.5" ry="4.3" fill="#000"/>
<text x="51.5" y="610.8" class="lg">wt</text>
<line x1="87.4" y1="606.5" x2="127.8" y2="606.5" stroke="#000" stroke-width="1.95" stroke-dasharray="4.9 2.7"/>
<ellipse cx="106.3" cy="606.4" rx="3.7" ry="4.2" fill="#000"/>
<text transform="translate(133.25,611.4) scale(1.035,1)" class="lg it">Tmprss6</text>
<text x="199.05" y="606.6" class="sup">+/-</text>
<line x1="232.9" y1="606.5" x2="272.7" y2="606.5" stroke="#7c7c7c" stroke-width="1.8"/>
<ellipse cx="251.8" cy="606.3" rx="3.4" ry="3.7" fill="#9a9a9a" stroke="#1c1c1c" stroke-width="1.25"/>
<text transform="translate(278.97,611.4) scale(1.035,1)" class="lg it">th3/+</text>
<line x1="336.3" y1="606.5" x2="375.8" y2="606.5" stroke="#7c7c7c" stroke-width="1.8" stroke-dasharray="4.9 2.7"/>
<ellipse cx="355" cy="606.4" rx="3.3" ry="3.8" fill="#9a9a9a" stroke="#1c1c1c" stroke-width="1.25"/>
<text transform="translate(380.24,612.3) scale(1.039,1)" class="lg it">Tmprss6</text>
<text transform="translate(446.73,607.8) scale(1.02,1)" class="sup">+/-</text>
<text transform="translate(464.21,612.3) scale(1.049,1)" class="lg it">th3/+</text>
<g fill="#fff"><rect x="12.86" y="119.93" width="3.14" height="3.13"/><rect x="12.86" y="115.31" width="3.14" height="3.02"/><rect x="22.06" y="84.78" width="2.17" height="2.22"/><rect x="25.35" y="84.78" width="2.09" height="2.22"/><rect x="22.78" y="66.68" width="2.17" height="2.32"/><rect x="26.06" y="66.68" width="2.09" height="2.32"/><rect x="27.43" y="66.68" width="2.17" height="2.32"/><rect x="30.72" y="66.68" width="2.09" height="2.32"/><rect x="22.06" y="48" width="2.17" height="2"/><rect x="25.35" y="48" width="2.09" height="2"/><rect x="22.06" y="30" width="2.17" height="2"/><rect x="25.35" y="30" width="2.09" height="2"/><rect x="65.2" y="191" width="2.47" height="2"/><rect x="68.93" y="191" width="2.38" height="2"/><rect x="270.61" y="84" width="2.17" height="2"/><rect x="273.9" y="84" width="2.09" height="2"/><rect x="271.33" y="66" width="2.17" height="2"/><rect x="274.61" y="66" width="2.09" height="2"/><rect x="275.98" y="66" width="2.17" height="2"/><rect x="279.27" y="66" width="2.09" height="2"/><rect x="270.61" y="47.74" width="2.17" height="2.26"/><rect x="273.9" y="47.74" width="2.09" height="2.26"/><rect x="270.61" y="29" width="2.17" height="2"/><rect x="273.9" y="29" width="2.09" height="2"/><rect x="311.9" y="191" width="2.47" height="2"/><rect x="315.63" y="191" width="2.38" height="2"/><rect x="22.88" y="314.68" width="2.17" height="2.32"/><rect x="26.16" y="314.68" width="2.09" height="2.32"/><rect x="27.53" y="314.68" width="2.17" height="2.32"/><rect x="30.82" y="314.68" width="2.09" height="2.32"/><rect x="22.16" y="296" width="2.17" height="2"/><rect x="25.45" y="296" width="2.09" height="2"/><rect x="22.16" y="278" width="2.17" height="2"/><rect x="25.45" y="278" width="2.09" height="2"/><rect x="22.16" y="259.78" width="2.17" height="2.22"/><rect x="25.45" y="259.78" width="2.09" height="2.22"/><rect x="22.16" y="241" width="2.17" height="2"/><rect x="25.45" y="241" width="2.09" height="2"/><rect x="27.53" y="223" width="2.17" height="2"/><rect x="30.82" y="223" width="2.09" height="2"/><rect x="64.9" y="386.9" width="2.47" height="2.1"/><rect x="68.63" y="386.9" width="2.38" height="2.1"/><rect x="270.88" y="313.67" width="2.17" height="2.33"/><rect x="274.16" y="313.67" width="2.09" height="2.33"/><rect x="275.53" y="313.67" width="2.17" height="2.33"/><rect x="278.82" y="313.67" width="2.09" height="2.33"/><rect x="270.16" y="295" width="2.17" height="2"/><rect x="273.45" y="295" width="2.09" height="2"/><rect x="270.16" y="276.99" width="2.17" height="2.01"/><rect x="273.45" y="276.99" width="2.09" height="2.01"/><rect x="270.16" y="258.66" width="2.17" height="2.34"/><rect x="273.45" y="258.66" width="2.09" height="2.34"/><rect x="270.16" y="240" width="2.17" height="2"/><rect x="273.45" y="240" width="2.09" height="2"/><rect x="275.53" y="221.98" width="2.17" height="2.02"/><rect x="278.82" y="221.98" width="2.09" height="2.02"/><rect x="311.9" y="386.9" width="2.47" height="2.1"/><rect x="315.63" y="386.9" width="2.38" height="2.1"/><rect x="67.3" y="583" width="2.47" height="2"/><rect x="71.03" y="583" width="2.38" height="2"/><rect x="311.9" y="582" width="2.47" height="2"/><rect x="315.63" y="582" width="2.38" height="2"/></g>
</svg></body></html>
